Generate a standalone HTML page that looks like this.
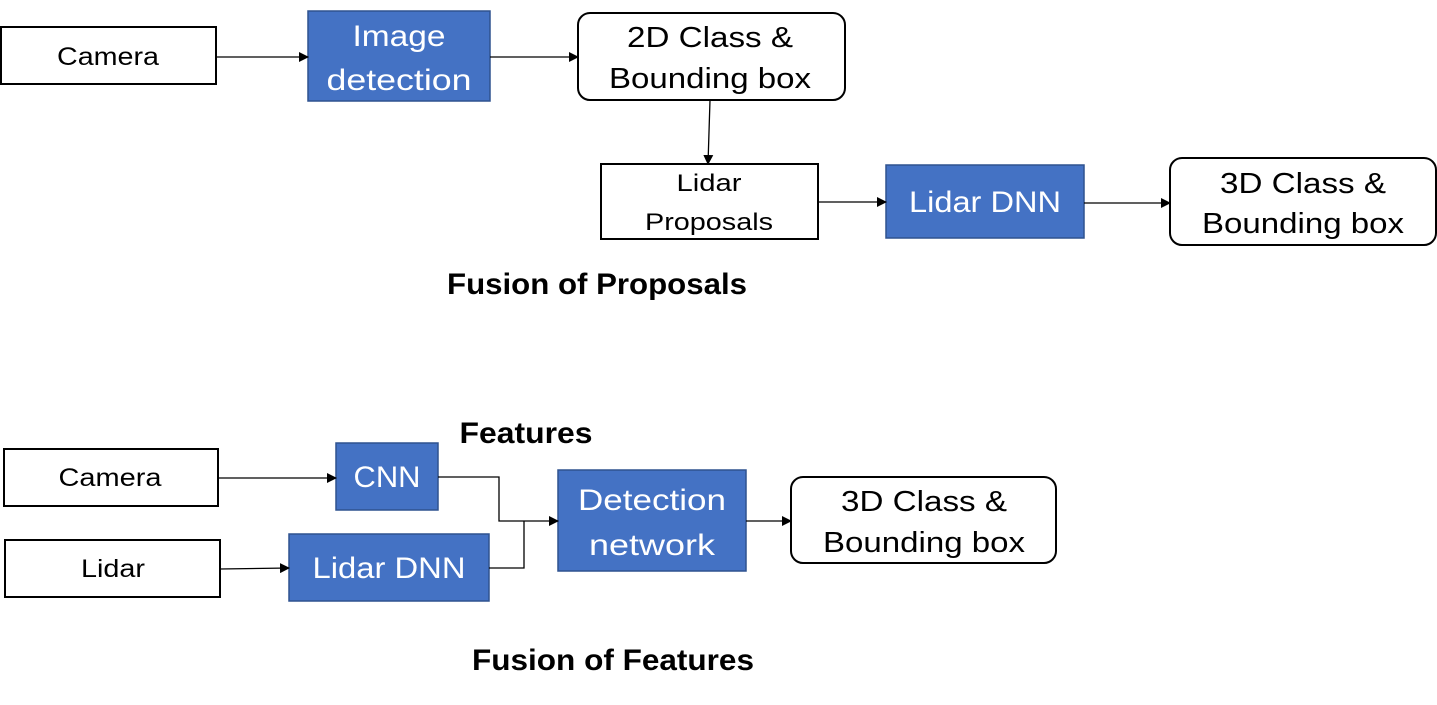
<!DOCTYPE html>
<html><head><style>html,body{margin:0;padding:0;background:#fff;}</style></head><body>
<svg width="1437" height="705" viewBox="0 0 1437 705" xmlns="http://www.w3.org/2000/svg" style="display:block">
<defs><marker id="a" markerWidth="10" markerHeight="10" refX="9" refY="5" orient="auto" markerUnits="userSpaceOnUse"><path d="M0,0 L10,5 L0,10 z" fill="#000"/></marker></defs>
<g font-family="'Liberation Sans', 'DejaVu Sans', sans-serif" text-anchor="middle" lengthAdjust="spacingAndGlyphs">
<!-- top -->
<rect x="1" y="27" width="215" height="57" fill="#fff" stroke="#000" stroke-width="2"/>
<text x="108" y="65" font-size="25" textLength="102" lengthAdjust="spacingAndGlyphs">Camera</text>
<rect x="308" y="11" width="182" height="90" fill="#4472C4" stroke="#2F528F" stroke-width="1.5"/>
<text x="399" y="46" font-size="30" fill="#fff" textLength="93" lengthAdjust="spacingAndGlyphs">Image</text>
<text x="399" y="90" font-size="30" fill="#fff" textLength="145" lengthAdjust="spacingAndGlyphs">detection</text>
<rect x="578" y="13" width="267" height="87" rx="12" fill="#fff" stroke="#000" stroke-width="2"/>
<text x="710" y="47" font-size="29" textLength="166" lengthAdjust="spacingAndGlyphs">2D Class &amp;</text>
<text x="710" y="88" font-size="29" textLength="202" lengthAdjust="spacingAndGlyphs">Bounding box</text>
<line x1="216" y1="57" x2="308" y2="57" stroke="#000" stroke-width="1.3" marker-end="url(#a)"/>
<line x1="490" y1="57" x2="578" y2="57" stroke="#000" stroke-width="1.3" marker-end="url(#a)"/>
<line x1="710" y1="100" x2="708" y2="164" stroke="#000" stroke-width="1.3" marker-end="url(#a)"/>
<rect x="601" y="164" width="217" height="75" fill="#fff" stroke="#000" stroke-width="2"/>
<text x="709" y="191" font-size="24" textLength="65" lengthAdjust="spacingAndGlyphs">Lidar</text>
<text x="709" y="230" font-size="24" textLength="128" lengthAdjust="spacingAndGlyphs">Proposals</text>
<rect x="886" y="165" width="198" height="73" fill="#4472C4" stroke="#2F528F" stroke-width="1.5"/>
<text x="985" y="212" font-size="30" fill="#fff" textLength="152" lengthAdjust="spacingAndGlyphs">Lidar DNN</text>
<rect x="1170" y="158" width="266" height="87" rx="12" fill="#fff" stroke="#000" stroke-width="2"/>
<text x="1303" y="193" font-size="29" textLength="166" lengthAdjust="spacingAndGlyphs">3D Class &amp;</text>
<text x="1303" y="233" font-size="29" textLength="202" lengthAdjust="spacingAndGlyphs">Bounding box</text>
<line x1="818" y1="202" x2="886" y2="202" stroke="#000" stroke-width="1.3" marker-end="url(#a)"/>
<line x1="1084" y1="203" x2="1170" y2="203" stroke="#000" stroke-width="1.3" marker-end="url(#a)"/>
<text x="597" y="294" font-size="30" font-weight="bold" textLength="300" lengthAdjust="spacingAndGlyphs">Fusion of Proposals</text>
<!-- bottom -->
<text x="526" y="443" font-size="30" font-weight="bold" textLength="133" lengthAdjust="spacingAndGlyphs">Features</text>
<rect x="4" y="449" width="214" height="57" fill="#fff" stroke="#000" stroke-width="2"/>
<text x="110" y="486" font-size="25" textLength="103" lengthAdjust="spacingAndGlyphs">Camera</text>
<rect x="336" y="443" width="102" height="67" fill="#4472C4" stroke="#2F528F" stroke-width="1.5"/>
<text x="387" y="487" font-size="30" fill="#fff" textLength="67" lengthAdjust="spacingAndGlyphs">CNN</text>
<rect x="5" y="540" width="215" height="57" fill="#fff" stroke="#000" stroke-width="2"/>
<text x="113" y="577" font-size="25" textLength="64" lengthAdjust="spacingAndGlyphs">Lidar</text>
<rect x="289" y="534" width="200" height="67" fill="#4472C4" stroke="#2F528F" stroke-width="1.5"/>
<text x="389" y="578" font-size="30" fill="#fff" textLength="153" lengthAdjust="spacingAndGlyphs">Lidar DNN</text>
<rect x="558" y="470" width="188" height="101" fill="#4472C4" stroke="#2F528F" stroke-width="1.5"/>
<text x="652" y="510" font-size="30" fill="#fff" textLength="148" lengthAdjust="spacingAndGlyphs">Detection</text>
<text x="652" y="555" font-size="30" fill="#fff" textLength="126" lengthAdjust="spacingAndGlyphs">network</text>
<rect x="791" y="477" width="265" height="86" rx="12" fill="#fff" stroke="#000" stroke-width="2"/>
<text x="924" y="511" font-size="29" textLength="166" lengthAdjust="spacingAndGlyphs">3D Class &amp;</text>
<text x="924" y="552" font-size="29" textLength="202" lengthAdjust="spacingAndGlyphs">Bounding box</text>
<line x1="218" y1="478" x2="336" y2="478" stroke="#000" stroke-width="1.3" marker-end="url(#a)"/>
<line x1="220" y1="569" x2="289" y2="568" stroke="#000" stroke-width="1.3" marker-end="url(#a)"/>
<polyline points="438,477 499,477 499,521 558,521" fill="none" stroke="#000" stroke-width="1.3" marker-end="url(#a)"/>
<polyline points="489,568 524,568 524,521" fill="none" stroke="#000" stroke-width="1.3"/>
<line x1="746" y1="521" x2="791" y2="521" stroke="#000" stroke-width="1.3" marker-end="url(#a)"/>
<text x="613" y="670" font-size="30" font-weight="bold" textLength="282" lengthAdjust="spacingAndGlyphs">Fusion of Features</text>
</g>
</svg>
</body></html>
